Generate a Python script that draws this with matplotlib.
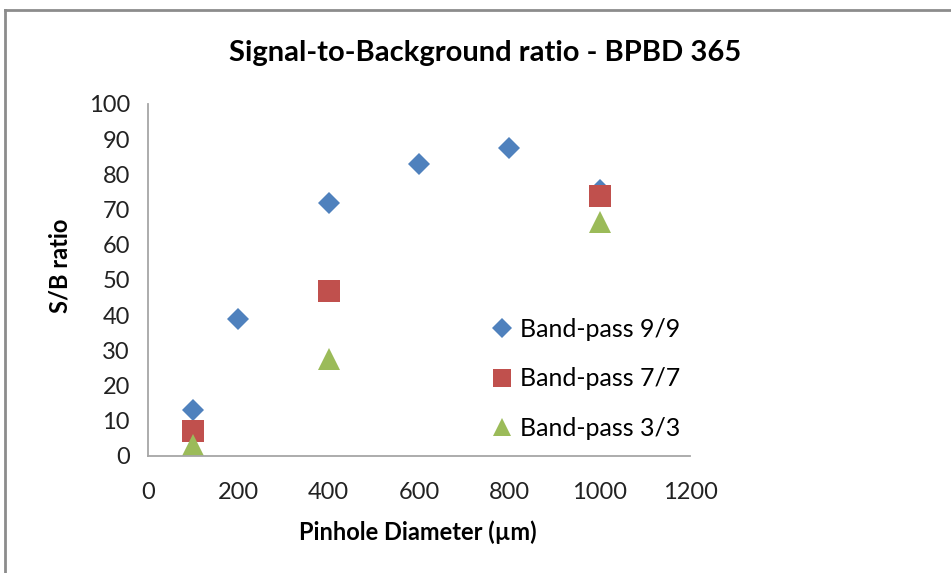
import matplotlib.pyplot as plt
from matplotlib.lines import Line2D

plt.rcParams['font.family'] = ['Lato', 'DejaVu Sans']

# data
x_99 = [100, 200, 400, 600, 800, 1000]
y_99 = [13, 39, 72, 83, 87.5, 75.5]
x_77 = [100, 400, 1000]
y_77 = [7, 47, 73.8]
x_33 = [100, 400, 1000]
y_33 = [3, 27.5, 66.5]
labels = ['Band-pass 9/9', 'Band-pass 7/7', 'Band-pass 3/3']

blue = '#4F81BD'
red = '#C0504D'
green = '#9BBB59'

fig = plt.figure(figsize=(9.51, 5.73), dpi=100)
ax = fig.add_axes([148 / 951, 1 - 456 / 573, 542 / 951, 352 / 573])

h1, = ax.plot(x_99, y_99, 'D', color=blue, ms=11.5, mew=0, linestyle='none')
h2, = ax.plot(x_77, y_77, 's', color=red, ms=16, mew=0, linestyle='none')
h3, = ax.plot(x_33, y_33, '^', color=green, ms=16, mew=0, linestyle='none')

ax.set_xlim(0, 1200)
ax.set_ylim(0, 100)
ax.set_xticks(range(0, 1201, 200))
ax.set_yticks(range(0, 101, 10))
ax.tick_params(length=0, labelsize=17, colors='#222222')
ax.tick_params(axis='x', pad=19)
ax.tick_params(axis='y', pad=13)
for s in ['top', 'right']:
    ax.spines[s].set_visible(False)
for s in ['left', 'bottom']:
    ax.spines[s].set_color('#A6A6A6')
    ax.spines[s].set_linewidth(1.3)

fig.text(418 / 951, 1 - 532 / 573, 'Pinhole Diameter (µm)', ha='center', va='center',
         fontsize=17, fontweight='bold')
fig.text(60 / 951, 1 - 266 / 573, 'S/B ratio', ha='center', va='center', rotation=90,
         fontsize=17, fontweight='bold')
fig.text(485 / 951, 1 - 53 / 573, 'Signal-to-Background ratio - BPBD 365',
         ha='center', va='center', fontsize=21, fontweight='bold')

handles = [
    Line2D([], [], marker='D', color=blue, ms=10, mew=0, linestyle='none'),
    Line2D([], [], marker='s', color=red, ms=13, mew=0, linestyle='none'),
    Line2D([], [], marker='^', color=green, ms=13, mew=0, linestyle='none'),
]
fig.legend(handles, labels, loc='upper left', bbox_to_anchor=(490 / 951, 1 - 318 / 573),
           frameon=False, fontsize=18, labelspacing=1.05, handletextpad=0.25,
           handlelength=0.95, borderpad=0, borderaxespad=0)

# gray frame along top and left, as in the original export
fig.add_artist(Line2D([5 / 951, 1], [1 - 10 / 573, 1 - 10 / 573], color='#8C8C8C', lw=2,
                      transform=fig.transFigure))
fig.add_artist(Line2D([5 / 951, 5 / 951], [0, 1 - 10 / 573], color='#8C8C8C', lw=2,
                      transform=fig.transFigure))

fig.savefig('out.png', dpi=100)
